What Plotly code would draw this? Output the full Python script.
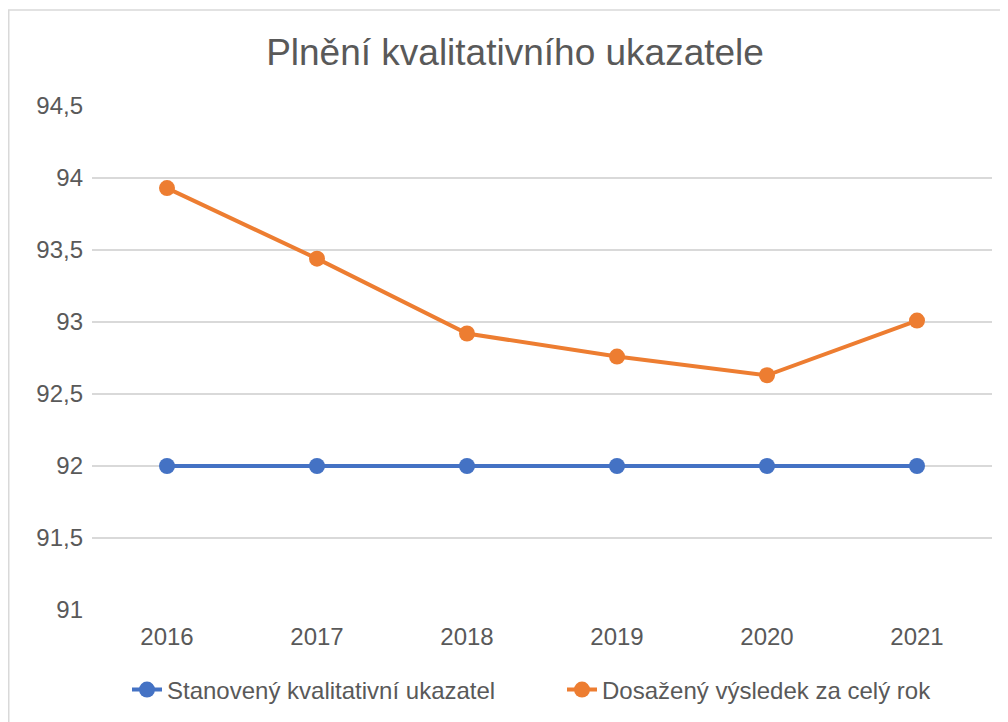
import plotly.graph_objects as go

years = ["2016", "2017", "2018", "2019", "2020", "2021"]
target = [92, 92, 92, 92, 92, 92]
actual = [93.93, 93.44, 92.92, 92.76, 92.63, 93.01]
y_ticks = [91, 91.5, 92, 92.5, 93, 93.5, 94, 94.5]
y_labels = ["91", "91,5", "92", "92,5", "93", "93,5", "94", "94,5"]

# page body has an 8px margin; coordinates below are figure pixels
W, H = 1008, 722
L, R, T, B = 84, 24, 98, 120
pw, ph = W - L - R, H - T - B

def px(x):
    return (x - L) / pw

def py(y):
    return (H - B - y) / ph

FONT = "Liberation Sans"
TXT = "#595959"

fig = go.Figure()
fig.add_trace(go.Scatter(
    x=years, y=target, mode="lines+markers",
    name="Stanovený kvalitativní ukazatel",
    line=dict(color="#4472C4", width=4),
    marker=dict(color="#4472C4", size=16),
))
fig.add_trace(go.Scatter(
    x=years, y=actual, mode="lines+markers",
    name="Dosažený výsledek za celý rok",
    line=dict(color="#ED7D31", width=4),
    marker=dict(color="#ED7D31", size=16),
))

fig.update_layout(
    width=W, height=H,
    margin=dict(l=L, r=R, t=T, b=B, autoexpand=False),
    paper_bgcolor="white", plot_bgcolor="white",
    title=dict(text="Plnění kvalitativního ukazatele", x=507 / W, xanchor="center",
               y=1 - 44 / H, yanchor="middle",
               font=dict(family=FONT, size=37, color=TXT)),
    font=dict(family=FONT, color=TXT),
    xaxis=dict(showgrid=False, showline=False, ticks="", zeroline=False,
               tickfont=dict(size=24, color=TXT), range=[-0.5, 5.5],
               ticklabelstandoff=10),
    yaxis=dict(range=[91, 94.5], tickvals=y_ticks, ticktext=y_labels,
               showgrid=True, gridcolor="#D9D9D9", gridwidth=1.5,
               zeroline=False, showline=False, ticks="", ticklabelstandoff=8,
               tickfont=dict(size=24, color=TXT)),
    legend=dict(orientation="h", x=px(119), xanchor="left", y=py(682), yanchor="middle",
                font=dict(size=24, color=TXT), entrywidth=390, bgcolor="rgba(0,0,0,0)"),
    showlegend=True,
)

# chart border
fig.add_shape(type="line", xref="paper", yref="paper",
              x0=px(0), y0=py(2), x1=px(1008), y1=py(2),
              line=dict(color="#D9D9D9", width=1.5))
fig.add_shape(type="line", xref="paper", yref="paper",
              x0=px(0.75), y0=py(2), x1=px(0.75), y1=py(722),
              line=dict(color="#D9D9D9", width=1.5))

fig.write_html("out.html")
